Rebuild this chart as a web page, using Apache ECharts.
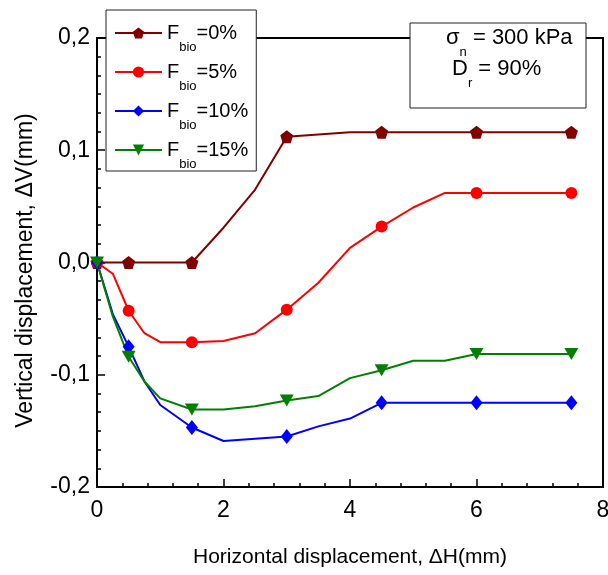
<!DOCTYPE html>
<html>
<head>
<meta charset="utf-8">
<script src="https://cdn.jsdelivr.net/npm/echarts@6/dist/echarts.min.js"></script>
<style>
  html, body { margin: 0; padding: 0; background: #fff; }
  #chart { width: 608px; height: 575px; }
</style>
</head>
<body>
<div id="chart"></div>
<script>
// Horizontal displacement (mm) and vertical displacement (mm) for each bio-content level
const fbio0X  = [0, 0.5, 1, 1.5, 2, 2.5, 3, 4, 4.5, 5, 5.5, 6, 6.5, 7, 7.5];
const fbio0Y  = [0, 0, 0, 0, 0.031, 0.065, 0.112, 0.116, 0.116, 0.116, 0.116, 0.116, 0.116, 0.116, 0.116];

const fbio5X  = [0, 0.25, 0.5, 0.75, 1, 1.5, 2, 2.5, 3, 3.5, 4, 4.5, 5, 5.5, 6, 7.5];
const fbio5Y  = [0, -0.010, -0.043, -0.063, -0.071, -0.071, -0.070, -0.063, -0.042, -0.018, 0.013, 0.032, 0.049, 0.062, 0.062, 0.062];

const fbio10X = [0, 0.25, 0.5, 0.75, 1, 1.5, 2, 2.5, 3, 3.5, 4, 4.5, 6, 7.5];
const fbio10Y = [0, -0.046, -0.075, -0.106, -0.127, -0.147, -0.159, -0.157, -0.155, -0.146, -0.139, -0.125, -0.125, -0.125];

const fbio15X = [0, 0.25, 0.5, 0.75, 1, 1.5, 2, 2.5, 3, 3.5, 4, 4.5, 5, 5.5, 6, 7.5];
const fbio15Y = [0, -0.048, -0.084, -0.106, -0.121, -0.131, -0.131, -0.128, -0.123, -0.119, -0.103, -0.096, -0.0875, -0.0875, -0.0815, -0.0815];

// Measurement stations that carry a symbol
const markedX = [0, 0.5, 1.5, 3, 4.5, 6, 7.5];

// Series labels (percentage part, shown after the subscripted "F bio")
const seriesPct = ['0%', '5%', '10%', '15%'];

// Tick labels
const xTickValues = [0, 2, 4, 6, 8];
const xTickLabels = ['0', '2', '4', '6', '8'];
const yTickValues = [-0.2, -0.1, 0, 0.1, 0.2];
const yTickLabels = ['-0,2', '-0,1', '0,0', '0,1', '0,2'];

const FONT = 'Liberation Sans, Arial, sans-serif';

function pairs(xs, ys) {
  return xs.map(function (x, i) {
    const item = { value: [x, ys[i]] };
    if (markedX.indexOf(x) < 0) item.symbol = 'none';
    return item;
  });
}

function tickLabel(values, labels) {
  return function (v) {
    for (let i = 0; i < values.length; i++) {
      if (Math.abs(values[i] - v) < 1e-9) return labels[i];
    }
    return '';
  };
}

const pentagon = 'path://M5,0 L10,3.63 L8.09,9.51 L1.91,9.51 L0,3.63 Z';
const downTriangle = 'path://M0,0 L10,0 L5,8.66 Z';

const seriesDefs = [
  { xs: fbio0X,  ys: fbio0Y,  color: '#800000', symbol: pentagon,     size: 13 },
  { xs: fbio5X,  ys: fbio5Y,  color: '#ff0000', symbol: 'circle',     size: 12 },
  { xs: fbio10X, ys: fbio10Y, color: '#0000ff', symbol: 'diamond',    size: [12, 15] },
  { xs: fbio15X, ys: fbio15Y, color: '#008000', symbol: downTriangle, size: [14, 12] }
];

const seriesNames = seriesPct.map(function (p) { return 'Fbio=' + p; });

const series = seriesDefs.map(function (d, i) {
  return {
    name: seriesNames[i],
    type: 'line',
    data: pairs(d.xs, d.ys),
    symbol: d.symbol,
    symbolSize: d.size,
    showAllSymbol: true,
    color: d.color,
    lineStyle: { color: d.color, width: 2 },
    itemStyle: { color: d.color },
    z: 3,
    animation: false
  };
});

// Rich-text styles: main glyphs and a lowered subscript
function subRich(mainSize, subSize, pad, colorKey) {
  const a = { fontFamily: FONT, fontSize: mainSize, lineHeight: mainSize + 2 };
  const b = { fontFamily: FONT, fontSize: subSize, lineHeight: subSize, padding: [pad, 0, 0, 0] };
  a[colorKey] = '#000';
  b[colorKey] = '#000';
  return { a: a, b: b };
}

const chart = echarts.init(document.getElementById('chart'), null, { renderer: 'canvas' });

chart.setOption({
  animation: false,
  backgroundColor: '#fff',
  grid: {
    left: 97, right: 5, top: 38, bottom: 88,
    outerBoundsMode: 'none',
    containLabel: false,
    show: true, borderColor: '#000', borderWidth: 2, backgroundColor: 'transparent'
  },
  xAxis: {
    type: 'value', min: 0, max: 8, interval: 2,
    name: 'Horizontal displacement, \u0394H(mm)',
    nameLocation: 'middle', nameGap: 60,
    nameTextStyle: { fontFamily: FONT, fontSize: 21, color: '#000' },
    axisLine: { show: true, onZero: false, lineStyle: { color: '#000', width: 2 } },
    axisTick: { show: true, inside: true, length: 8, lineStyle: { color: '#000', width: 1.5 } },
    minorTick: { show: true, splitNumber: 5, length: 4, lineStyle: { color: '#000', width: 1.5 } },
    splitLine: { show: false },
    axisLabel: {
      margin: 12, fontFamily: FONT, fontSize: 23, color: '#000',
      formatter: tickLabel(xTickValues, xTickLabels)
    }
  },
  yAxis: {
    type: 'value', min: -0.2, max: 0.2, interval: 0.1,
    name: 'Vertical displacement, \u0394V(mm)',
    nameLocation: 'middle', nameGap: 60,
    nameTextStyle: { fontFamily: FONT, fontSize: 23, color: '#000', padding: [0, 16, 0, 0] },
    axisLine: { show: true, onZero: false, lineStyle: { color: '#000', width: 2 } },
    axisTick: { show: true, inside: true, length: 8, lineStyle: { color: '#000', width: 1.5 } },
    minorTick: { show: true, splitNumber: 6, length: 4, lineStyle: { color: '#000', width: 1.5 } },
    splitLine: { show: false },
    axisLabel: {
      margin: 7, fontFamily: FONT, fontSize: 23, color: '#000',
      formatter: tickLabel(yTickValues, yTickLabels)
    }
  },
  legend: {
    data: seriesNames,
    orient: 'vertical',
    left: 106, top: 10,
    itemWidth: 47, itemHeight: 14, itemGap: -3,
    padding: [2, 8, 0, 8],
    backgroundColor: '#fff',
    borderColor: '#222', borderWidth: 1,
    z: 10,
    formatter: function (name) {
      const i = seriesNames.indexOf(name);
      return '{a|F}{b|bio}{a|=' + seriesPct[i] + '}';
    },
    textStyle: {
      fontFamily: FONT, color: '#000',
      rich: subRich(20, 13, 29, 'color')
    }
  },
  graphic: [
    {
      type: 'group', z: 20,
      children: [
        {
          type: 'rect',
          shape: { x: 410, y: 23, width: 176, height: 85 },
          style: { fill: '#fff', stroke: '#222', lineWidth: 1 }
        },
        {
          type: 'text', x: 446, y: 26,
          style: { text: '{a|\u03c3}{b|n}{a| = 300 kPa}', rich: subRich(22, 13, 29, 'fill') }
        },
        {
          type: 'text', x: 452, y: 57,
          style: { text: '{a|D}{b|r}{a| = 90%}', rich: subRich(22, 13, 29, 'fill') }
        }
      ]
    }
  ],
  series: series
});
</script>
</body>
</html>
